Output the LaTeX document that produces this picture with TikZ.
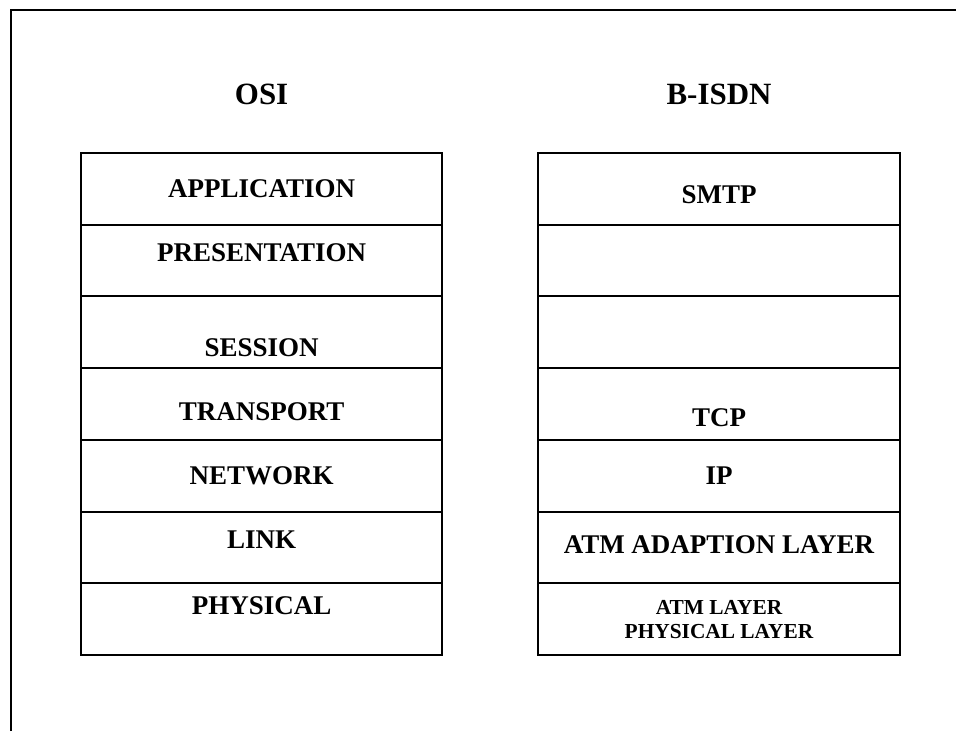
\documentclass[tikz,border=0pt]{standalone}
\usepackage{fontspec}
\setmainfont{Liberation Serif}
\usetikzlibrary{positioning}

\tikzset{
  layer/.style={draw, line width=1.4pt, minimum width=9.04cm, minimum height=1.793cm, inner sep=0pt, outer sep=0pt},
  lbl/.style={font=\fontsize{19.2}{21}\selectfont\bfseries, inner sep=0pt},
  smalllbl/.style={font=\fontsize{15.2}{17}\selectfont\bfseries, align=center, inner sep=0pt},
  stacktitle/.style={font=\fontsize{22}{24}\selectfont\bfseries, inner sep=0pt}
}

\begin{document}
\begin{tikzpicture}
\useasboundingbox (0,0) rectangle (24,18.275);
\draw [line width=2.1pt] (0.275,0) -- (0.275,18.025) -- (23.9,18.025);

% OSI stack
\node [layer] (o1) at (6.54,13.553) {};
\node [layer, below=0pt of o1] (o2) {};
\node [layer, below=0pt of o2] (o3) {};
\node [layer, below=0pt of o3] (o4) {};
\node [layer, below=0pt of o4] (o5) {};
\node [layer, below=0pt of o5] (o6) {};
\node [layer, below=0pt of o6] (o7) {};

\node [stacktitle, above=1.2cm of o1.north] (osi) {OSI};
\node [lbl] (app)  at (o1.center) {APPLICATION};
\node [lbl] (pres) at ([yshift=0.2cm]o2.center) {PRESENTATION};
\node [lbl] (sess) at ([yshift=-0.39cm]o3.center) {SESSION};
\node [lbl] (trans) at ([yshift=-0.2cm]o4.center) {TRANSPORT};
\node [lbl] (netw) at (o5.center) {NETWORK};
\node [lbl] (link) at ([yshift=0.2cm]o6.center) {LINK};
\node [lbl] (phys) at ([yshift=0.35cm]o7.center) {PHYSICAL};

% B-ISDN stack
\node [layer] (b1) at (17.975,13.553) {};
\node [layer, below=0pt of b1] (b2) {};
\node [layer, below=0pt of b2] (b3) {};
\node [layer, below=0pt of b3] (b4) {};
\node [layer, below=0pt of b4] (b5) {};
\node [layer, below=0pt of b5] (b6) {};
\node [layer, below=0pt of b6] (b7) {};

\node [stacktitle, above=1.2cm of b1.north] (bisdn) {B-ISDN};
\node [lbl] (smtp) at ([yshift=-0.15cm]b1.center) {SMTP};
\node [lbl] (tcp)  at ([yshift=-0.33cm]b4.center) {TCP};
\node [lbl] (ip)   at (b5.center) {IP};
\node [lbl] (aal)  at ([yshift=0.08cm]b6.center) {ATM ADAPTION LAYER};
\node [smalllbl] (atm) at (b7.center) {ATM LAYER\\PHYSICAL LAYER};
\end{tikzpicture}
\end{document}
